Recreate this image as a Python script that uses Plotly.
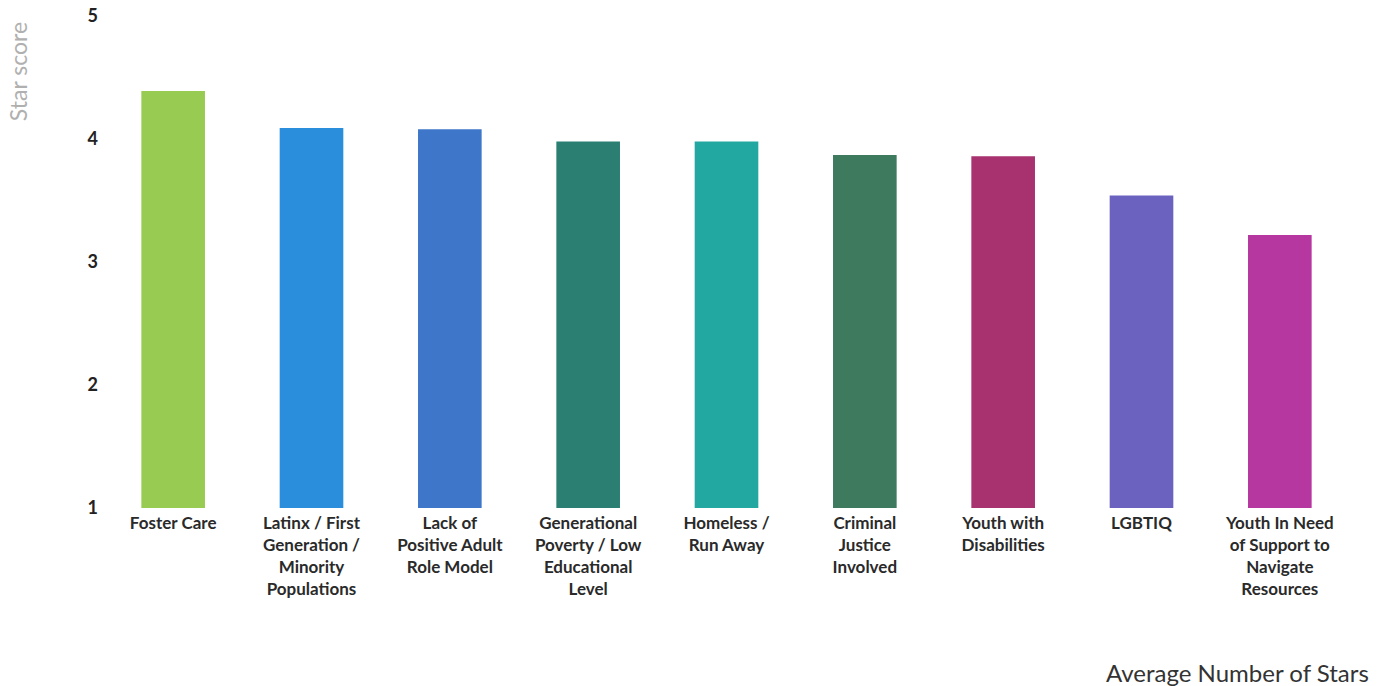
import plotly.graph_objects as go

# Categories and average star scores
categories = [
    "Foster Care",
    "Latinx / First<br>Generation /<br>Minority<br>Populations",
    "Lack of<br>Positive Adult<br>Role Model",
    "Generational<br>Poverty / Low<br>Educational<br>Level",
    "Homeless /<br>Run Away",
    "Criminal<br>Justice<br>Involved",
    "Youth with<br>Disabilities",
    "LGBTIQ",
    "Youth In Need<br>of Support to<br>Navigate<br>Resources",
]
scores = [4.39, 4.09, 4.08, 3.98, 3.98, 3.87, 3.86, 3.54, 3.22]
bar_colors = [
    "#98CB52", "#2B8EDD", "#3E77C9", "#2A7E72", "#22A8A0",
    "#3E7A5E", "#A8316F", "#6B62BF", "#B6379F",
]
y_ticks = [1, 2, 3, 4, 5]

fig = go.Figure()
fig.add_trace(go.Bar(
    x=list(range(len(categories))),
    y=[s - 1 for s in scores],
    base=1,
    marker=dict(color=bar_colors, line=dict(width=0)),
    width=0.46,
    hoverinfo="skip",
))

fig.update_layout(
    width=1389,
    height=686,
    margin=dict(l=104, r=40, t=16, b=178),
    paper_bgcolor="white",
    plot_bgcolor="white",
    showlegend=False,
    font=dict(family="Lato", color="#222222"),
    xaxis=dict(
        tickmode="array",
        tickvals=list(range(len(categories))),
        ticktext=categories,
        range=[-0.5, len(categories) - 0.5],
        showgrid=False,
        zeroline=False,
        showline=False,
        ticks="",
        tickfont=dict(family="Lato", size=17, color="#2a2a2a", weight="bold"),
        tickangle=0,
        ticklabelstandoff=3,
        automargin=False,
    ),
    yaxis=dict(
        range=[1, 5],
        tickmode="array",
        tickvals=y_ticks,
        ticktext=[str(v) for v in y_ticks],
        showgrid=False,
        zeroline=False,
        showline=False,
        ticks="",
        tickfont=dict(family="Lato", size=18, color="#222222", weight="bold"),
        ticklabelstandoff=5,
        automargin=False,
    ),
    annotations=[
        dict(
            text="Star score",
            xref="paper", yref="paper",
            x=-0.069, y=0.886,
            xanchor="center", yanchor="middle",
            textangle=-90,
            showarrow=False,
            font=dict(family="Lato", size=23, color="#b0b0b0"),
        ),
        dict(
            text="Average Number of Stars",
            xref="paper", yref="paper",
            x=1.018, y=-0.335,
            xanchor="right", yanchor="middle",
            showarrow=False,
            font=dict(family="Lato", size=24, color="#333333"),
        ),
    ],
)

fig.write_html("out.html")
